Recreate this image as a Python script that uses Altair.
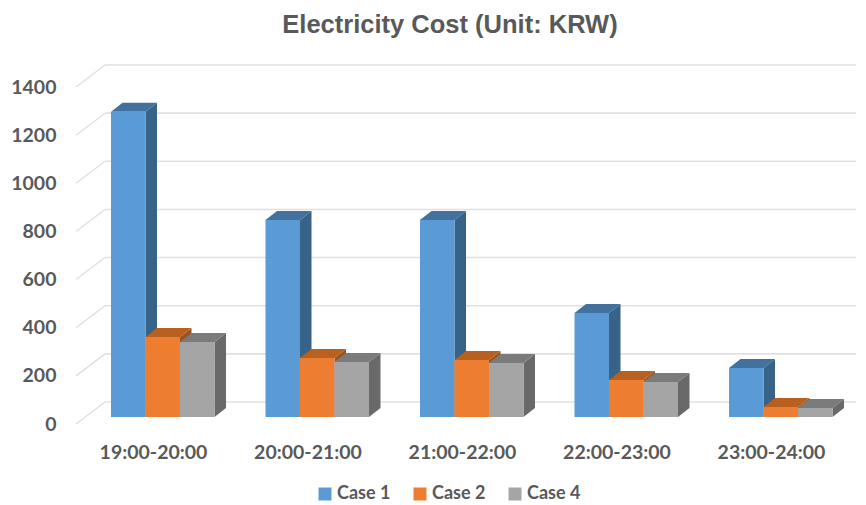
import json
import altair as alt
import pandas as pd

CATEGORIES = ["19:00-20:00", "20:00-21:00", "21:00-22:00", "22:00-23:00", "23:00-24:00"]
SERIES = ["Case 1", "Case 2", "Case 4"]
CASE_1 = [1268, 818, 818, 432, 204]
CASE_2 = [332, 245, 237, 154, 42]
CASE_4 = [312, 228, 224, 145, 37]
Y_TICKS = [0, 200, 400, 600, 800, 1000, 1200, 1400]
FRONT = ["#5B9BD5", "#ED7D31", "#A5A5A5"]
TOP = ["#41719C", "#B8601F", "#7B7B7B"]
SIDE = ["#386389", "#9E521B", "#696969"]

# projection constants of the 3-D look, in data units
PX_X, PX_Y = 154.5, 337 / 1400
X_MIN, X_MAX = (76 - 153) / PX_X, (856 - 153) / PX_X
WALL_X, WALL_Y = 29 / PX_X, 22 / PX_Y
BAR_START, BAR_W = -42 / PX_X, 34.5 / PX_X
DEPTH_X, DEPTH_Y = 11.5 / PX_X, 9 / PX_Y
LIFT = 7 / PX_Y

x_scale = alt.Scale(domain=[X_MIN, X_MAX], nice=False, zero=False)
y_scale = alt.Scale(domain=[0, 1400 + WALL_Y], nice=False, zero=False)

front, side, top = [], [], []
for s, (name, vals) in enumerate(zip(SERIES, [CASE_1, CASE_2, CASE_4])):
    for c, v in enumerate(vals):
        x0 = c + BAR_START + s * BAR_W
        x1 = x0 + BAR_W
        y0, y1 = LIFT, v + LIFT
        key = f"{s}-{c}"
        front.append(dict(series=name, x=x0, x2=x1, y=y0, y2=y1))
        side.append(dict(series=name, id=key, x=x1, y=y0, y2=y1))
        side.append(dict(series=name, id=key, x=x1 + DEPTH_X, y=y0 + DEPTH_Y, y2=y1 + DEPTH_Y))
        top.append(dict(series=name, id=key, y=y1, x=x0, x2=x1))
        top.append(dict(series=name, id=key, y=y1 + DEPTH_Y, x=x0 + DEPTH_X, x2=x1 + DEPTH_X))

grid = pd.DataFrame([
    dict(x=X_MIN, xw=X_MIN + WALL_X, xe=X_MAX, y=v, yw=v + WALL_Y) for v in Y_TICKS
])

GREY = "#595959"
FONT = "Lato"

x_axis = alt.Axis(
    values=list(range(len(CATEGORIES))),
    labelExpr=f"{json.dumps(CATEGORIES)}[datum.value]",
    domain=False, ticks=False, grid=False,
    labelFont=FONT, labelFontWeight="bold", labelFontSize=19.5, labelColor=GREY,
    labelPadding=19, labelOverlap=False, labelFlush=False,
)
y_axis = alt.Axis(
    values=Y_TICKS, format="d", domain=False, ticks=False, grid=False,
    labelFont=FONT, labelFontWeight="bold", labelFontSize=19.5, labelColor=GREY,
    labelPadding=20, labelOverlap=False, labelFlush=False,
)

diag = alt.Chart(grid).mark_rule(color="#DEDEDE", strokeWidth=1.3).encode(
    x=alt.X("x:Q", scale=x_scale, axis=x_axis, title=None),
    x2="xw:Q",
    y=alt.Y("y:Q", scale=y_scale, axis=y_axis, title=None),
    y2="yw:Q",
)
wall = alt.Chart(grid).mark_rule(color="#E0E0E0", strokeWidth=1.6).encode(
    x=alt.X("xw:Q", scale=x_scale, axis=x_axis, title=None),
    x2="xe:Q",
    y=alt.Y("yw:Q", scale=y_scale, axis=y_axis, title=None),
)
sides = alt.Chart(pd.DataFrame(side)).mark_area().encode(
    x=alt.X("x:Q", scale=x_scale, axis=x_axis, title=None),
    y=alt.Y("y:Q", scale=y_scale, axis=y_axis, title=None, stack=None),
    y2="y2:Q",
    detail="id:N",
    color=alt.Color("series:N", scale=alt.Scale(domain=SERIES, range=SIDE), legend=None),
)
tops = alt.Chart(pd.DataFrame(top)).mark_area(orient="horizontal").encode(
    y=alt.Y("y:Q", scale=y_scale, axis=y_axis, title=None),
    x=alt.X("x:Q", scale=x_scale, axis=x_axis, title=None, stack=None),
    x2="x2:Q",
    detail="id:N",
    color=alt.Color("series:N", scale=alt.Scale(domain=SERIES, range=TOP), legend=None),
)
fronts = alt.Chart(pd.DataFrame(front)).mark_rect().encode(
    x=alt.X("x:Q", scale=x_scale, axis=x_axis, title=None),
    x2="x2:Q",
    y=alt.Y("y:Q", scale=y_scale, axis=y_axis, title=None),
    y2="y2:Q",
    color=alt.Color(
        "series:N",
        scale=alt.Scale(domain=SERIES, range=FRONT),
        legend=alt.Legend(
            title=None, orient="none", legendX=240, legendY=420, columns=3,
            columnPadding=20, symbolType="square", symbolSize=169, symbolStrokeWidth=0,
            labelFont=FONT, labelFontWeight="bold", labelFontSize=18, labelColor=GREY,
            labelOffset=3, labelLimit=200,
        ),
    ),
)

chart = (
    alt.layer(diag, wall, sides, tops, fronts)
    .resolve_scale(color="independent")
    .properties(
        width=780,
        height=359,
        padding={"left": 2, "top": 4, "right": 0, "bottom": 0},
        title=alt.TitleParams(
            "Electricity Cost (Unit: KRW)", font="Liberation Sans", fontSize=25.5,
            fontWeight="bold", color=GREY, anchor="middle", dx=-16, offset=26,
        ),
    )
    .configure_view(stroke=None)
)

chart.save("out.html", embed_options={"renderer": "svg", "actions": False})
